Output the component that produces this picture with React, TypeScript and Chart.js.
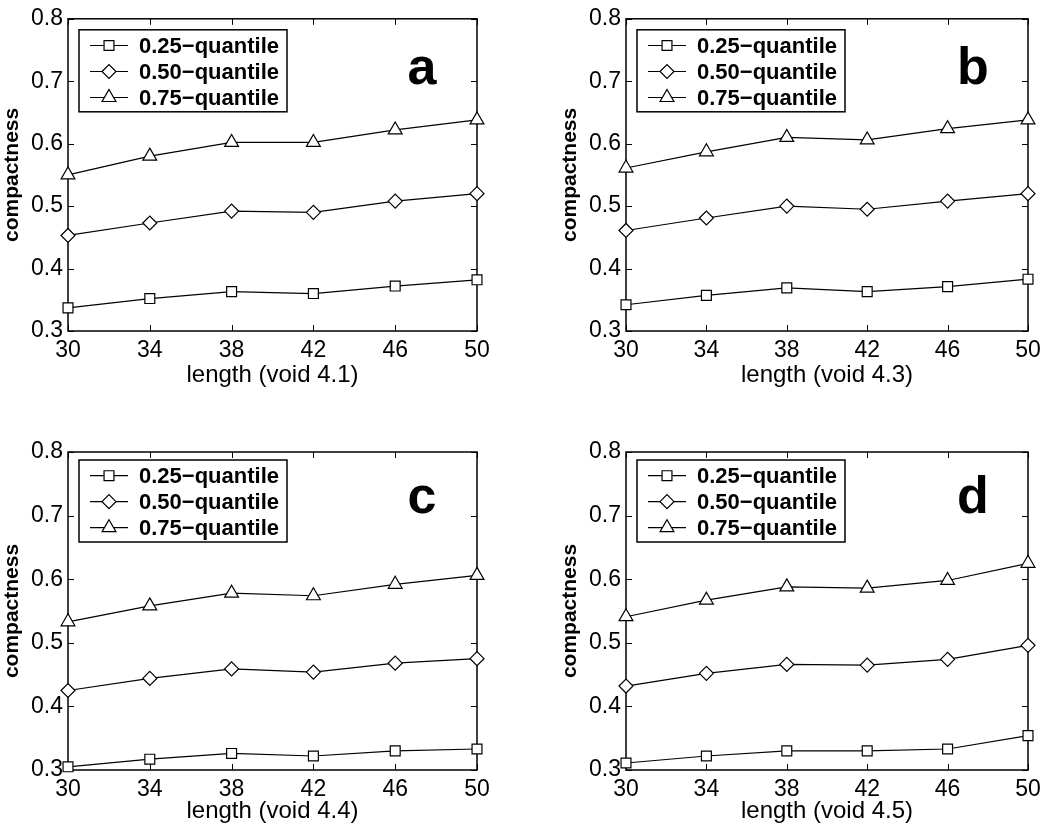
import React, { useEffect, useRef } from "react";
import { Chart, registerables } from "chart.js";
import { drawPoint } from "chart.js/helpers";

Chart.register(...registerables);

// ---------- data ----------
const lengths = [30, 34, 38, 42, 46, 50];
const xTickValues = [30, 34, 38, 42, 46, 50];
const yTickValues = [0.3, 0.4, 0.5, 0.6, 0.7, 0.8];
const seriesLabels = ["0.25\u2212quantile", "0.50\u2212quantile", "0.75\u2212quantile"];
const panelLetters = ["a", "b", "c", "d"];
const xTitles = ["length (void 4.1)", "length (void 4.3)", "length (void 4.4)", "length (void 4.5)"];
const yTitle = "compactness";

const aQ25 = [0.337, 0.352, 0.363, 0.360, 0.372, 0.382];
const aQ50 = [0.453, 0.473, 0.492, 0.490, 0.508, 0.520];
const aQ75 = [0.550, 0.580, 0.602, 0.602, 0.622, 0.638];

const bQ25 = [0.342, 0.357, 0.369, 0.363, 0.371, 0.383];
const bQ50 = [0.461, 0.481, 0.500, 0.495, 0.508, 0.520];
const bQ75 = [0.561, 0.587, 0.610, 0.606, 0.624, 0.638];

const cQ25 = [0.305, 0.317, 0.326, 0.322, 0.330, 0.333];
const cQ50 = [0.425, 0.444, 0.459, 0.454, 0.468, 0.475];
const cQ75 = [0.533, 0.558, 0.578, 0.574, 0.592, 0.606];

const dQ25 = [0.311, 0.322, 0.330, 0.330, 0.333, 0.354];
const dQ50 = [0.432, 0.452, 0.466, 0.465, 0.474, 0.496];
const dQ75 = [0.541, 0.567, 0.588, 0.586, 0.598, 0.625];

const panelSeries = [
  [aQ25, aQ50, aQ75],
  [bQ25, bQ50, bQ75],
  [cQ25, cQ50, cQ75],
  [dQ25, dQ50, dQ75],
];

// ---------- styling / layout ----------
const FONT = "'Liberation Sans', Arial, Helvetica, sans-serif";
const markerStyles = ["rect", "rectRot", "triangle"];
const markerRadii = [7, 7, 8];

const layouts = [
  { x: 0, y: 0, w: 525, h: 414, pl: 0, pt: 8, pr: 48, pb: 23, xh: 60, tpb: 1, legTop: 11, letterTop: 65 },
  { x: 525, y: 0, w: 525, h: 414, pl: 33, pt: 8, pr: 22, pb: 23, xh: 60, tpb: 1, legTop: 11, letterTop: 65 },
  { x: 0, y: 414, w: 525, h: 415, pl: 0, pt: 38, pr: 48, pb: 0, xh: 59, tpb: 3, legTop: 8, letterTop: 61 },
  { x: 525, y: 414, w: 525, h: 415, pl: 33, pt: 38, pr: 22, pb: 0, xh: 59, tpb: 3, legTop: 8, letterTop: 61 },
];

const boxPlugin = {
  id: "matlabBox",
  beforeDatasetsDraw(chart: any) {
    const { ctx, chartArea } = chart;
    const { left, right, top, bottom } = chartArea;
    const xs = chart.scales.x;
    const ys = chart.scales.y;
    ctx.save();
    ctx.strokeStyle = "#000";
    ctx.lineWidth = 1.5;
    ctx.strokeRect(left, top, right - left, bottom - top);
    ctx.lineWidth = 1;
    const tl = 6;
    ctx.beginPath();
    xTickValues.forEach((v) => {
      const px = Math.round(xs.getPixelForValue(v)) + 0.5;
      ctx.moveTo(px, bottom);
      ctx.lineTo(px, bottom - tl);
      ctx.moveTo(px, top);
      ctx.lineTo(px, top + tl);
    });
    yTickValues.forEach((v) => {
      const py = Math.round(ys.getPixelForValue(v)) + 0.5;
      ctx.moveTo(left, py);
      ctx.lineTo(left + tl, py);
      ctx.moveTo(right, py);
      ctx.lineTo(right - tl, py);
    });
    ctx.stroke();
    ctx.restore();
  },
  afterDraw(chart: any) {
    const opts = chart.options.plugins.matlabBox;
    const { ctx, chartArea } = chart;
    const { left, right, top } = chartArea;
    ctx.save();
    // legend box
    const bx = left + 11;
    const by = top + opts.legTop;
    const bw = 208;
    const bh = 82;
    ctx.fillStyle = "#fff";
    ctx.fillRect(bx, by, bw, bh);
    ctx.strokeStyle = "#000";
    ctx.lineWidth = 1.5;
    ctx.strokeRect(bx, by, bw, bh);
    const rows = [15.7, 41.7, 67.7];
    ctx.font = `bold 22px ${FONT}`;
    ctx.textBaseline = "middle";
    ctx.textAlign = "left";
    seriesLabels.forEach((lab, i) => {
      const ry = by + rows[i];
      ctx.lineWidth = 1.2;
      ctx.strokeStyle = "#000";
      ctx.beginPath();
      ctx.moveTo(bx + 11, ry);
      ctx.lineTo(bx + 49, ry);
      ctx.stroke();
      ctx.fillStyle = "#fff";
      drawPoint(ctx, { pointStyle: markerStyles[i], rotation: 0, radius: markerRadii[i], borderWidth: 1.2 }, bx + 30, ry);
      ctx.fillStyle = "#000";
      ctx.fillText(lab, bx + 60, ry + 1);
    });
    // panel letter
    ctx.font = `bold 52px ${FONT}`;
    ctx.textAlign = "center";
    ctx.textBaseline = "alphabetic";
    ctx.fillStyle = "#000";
    ctx.fillText(opts.letter, right - 55, top + opts.letterTop);
    ctx.restore();
  },
};

function Panel({ idx }: { idx: number }) {
  const ref = useRef<HTMLCanvasElement>(null);
  const L = layouts[idx];
  useEffect(() => {
    if (!ref.current) return;
    const series = panelSeries[idx];
    const chart = new Chart(ref.current, {
      type: "line",
      data: {
        datasets: series.map((vals, i) => ({
          label: seriesLabels[i],
          data: lengths.map((x, j) => ({ x, y: vals[j] })),
          borderColor: "#000",
          borderWidth: 1.2,
          pointStyle: markerStyles[i],
          pointRadius: markerRadii[i],
          pointBorderWidth: 1.2,
          pointBorderColor: "#000",
          pointBackgroundColor: "#fff",
          tension: 0,
          clip: false,
        })),
      },
      options: {
        responsive: false,
        animation: false,
        events: [],
        layout: { padding: { left: L.pl, top: L.pt, right: L.pr, bottom: L.pb } },
        plugins: {
          legend: { display: false },
          tooltip: { enabled: false },
          matlabBox: { letter: panelLetters[idx], legTop: L.legTop, letterTop: L.letterTop },
        } as any,
        scales: {
          x: {
            type: "linear",
            min: 30,
            max: 50,
            grid: { display: false, drawTicks: false, tickLength: 0 },
            border: { display: false },
            afterBuildTicks: (s: any) => {
              s.ticks = xTickValues.map((v) => ({ value: v }));
            },
            afterFit: (s: any) => {
              s.height = L.xh;
            },
            ticks: {
              autoSkip: false,
              maxRotation: 0,
              padding: 6,
              color: "#000",
              font: { family: FONT, size: 23 },
              callback: (v: any) => String(v),
            },
            title: {
              display: true,
              text: xTitles[idx],
              color: "#000",
              font: { family: FONT, size: 24 },
              padding: { top: 0, bottom: L.tpb },
            },
          },
          y: {
            type: "linear",
            min: 0.3,
            max: 0.8,
            grid: { display: false, drawTicks: false, tickLength: 0 },
            border: { display: false },
            afterBuildTicks: (s: any) => {
              s.ticks = yTickValues.map((v) => ({ value: v }));
            },
            afterFit: (s: any) => {
              s.width = 68;
            },
            ticks: {
              autoSkip: false,
              padding: 5,
              color: "#000",
              font: { family: FONT, size: 23 },
              callback: (v: any) => Number(v).toFixed(1),
            },
            title: {
              display: true,
              text: yTitle,
              color: "#000",
              font: { family: FONT, size: 21, weight: "bold" },
              padding: { top: 0, bottom: 0 },
            },
          },
        },
      },
      plugins: [boxPlugin],
    } as any);
    return () => chart.destroy();
  }, [idx]);
  return (
    <canvas
      ref={ref}
      width={L.w}
      height={L.h}
      style={{ position: "absolute", left: L.x, top: L.y, width: L.w, height: L.h }}
    />
  );
}

export default function App() {
  return (
    <div style={{ position: "absolute", left: 0, top: 0, width: 1050, height: 829, background: "#fff", overflow: "hidden" }}>
      {[0, 1, 2, 3].map((i) => (
        <Panel key={i} idx={i} />
      ))}
    </div>
  );
}
